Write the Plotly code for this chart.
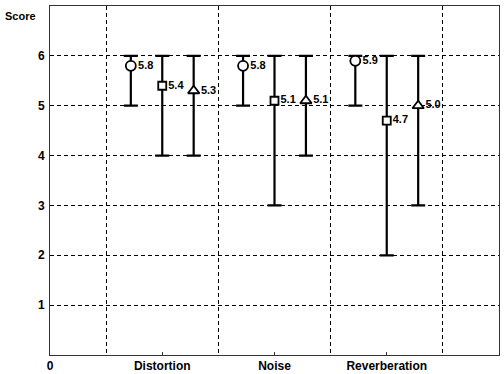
import plotly.graph_objects as go

categories = ["Distortion", "Noise", "Reverberation"]
circle_mean = [5.8, 5.8, 5.9]
circle_low = [5, 5, 5]
circle_high = [6, 6, 6]
square_mean = [5.4, 5.1, 4.7]
square_low = [4, 3, 2]
square_high = [6, 6, 6]
triangle_mean = [5.3, 5.1, 5.0]
triangle_low = [4, 4, 3]
triangle_high = [6, 6, 6]
y_ticks = [1, 2, 3, 4, 5, 6]

series = [
    ("circle", circle_mean, circle_low, circle_high, -0.28, 10),
    ("square", square_mean, square_low, square_high, 0.0, 8),
    ("triangle-up", triangle_mean, triangle_low, triangle_high, 0.28, 10),
]

FONT = "Arial, Liberation Sans"
fig = go.Figure()
for sym, mean, low, high, off, size in series:
    xs = [i + 1 + off for i in range(len(categories))]
    fig.add_trace(go.Scatter(
        x=xs, y=mean,
        mode="markers+text",
        text=[f"{v:.1f}" for v in mean],
        textposition="middle right",
        textfont=dict(family=FONT, size=11, color="black", weight="bold"),
        marker=dict(symbol=sym, size=size, color="white", line=dict(width=1.8, color="black")),
        error_y=dict(type="data", symmetric=False,
                     array=[h - m for h, m in zip(high, mean)],
                     arrayminus=[m - l for m, l in zip(mean, low)],
                     color="black", thickness=2.2, width=7),
        showlegend=False,
        cliponaxis=False,
    ))

grid = dict(gridcolor="black", griddash="4px,3px", gridwidth=1)
fig.update_layout(
    width=504, height=374,
    margin=dict(l=50, r=5, t=6, b=19),
    plot_bgcolor="white", paper_bgcolor="white",
    font=dict(family=FONT, size=12, color="black", weight="bold"),
    xaxis=dict(range=[0, 4], tickvals=[0, 1, 2, 3],
               ticktext=["0"] + categories,
               showgrid=False, zeroline=False, automargin=False,
               showline=True, linecolor="#333", linewidth=1, mirror=True,
               ticks="inside", ticklen=3, tickcolor="#333",
               tickfont=dict(family=FONT, size=12, weight="bold"),
               minor=dict(tick0=0.5, dtick=1, showgrid=True, **grid),
               fixedrange=True),
    yaxis=dict(range=[0, 7], tickvals=y_ticks,
               showgrid=True, **grid,
               zeroline=False, automargin=False,
               showline=True, linecolor="#333", linewidth=1, mirror=True,
               ticks="", ticklabelstandoff=2,
               tickfont=dict(family=FONT, size=12, weight="bold")),
    annotations=[dict(text="Score", x=0, y=1, xref="paper", yref="paper",
                      xanchor="right", yanchor="middle", xshift=-12, yshift=-10,
                      showarrow=False,
                      font=dict(family=FONT, size=11, weight="bold"))],
)

fig.write_html("out.html")
